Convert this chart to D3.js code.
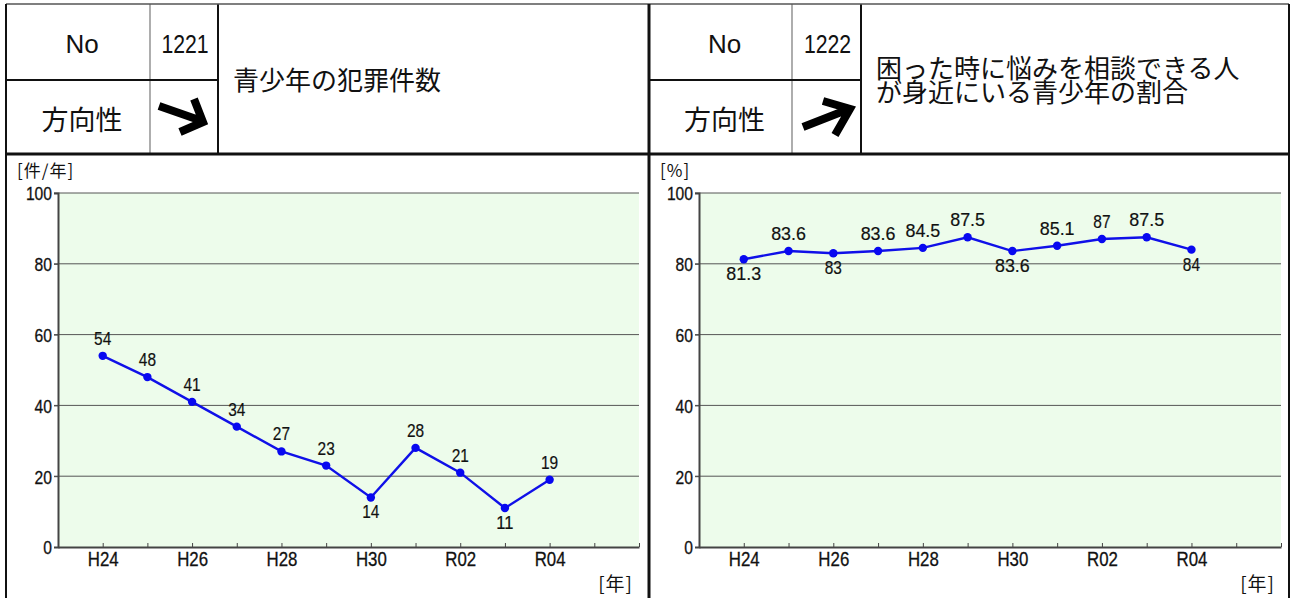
<!DOCTYPE html>
<html>
<head>
<meta charset="utf-8">
<script src="https://cdn.jsdelivr.net/npm/d3@7"></script>
<style>
  body { margin: 0; background: #fff; }
  svg { display: block; }
</style>
</head>
<body>
<div id="chart"></div>
<script>
"use strict"

// data
const years = ["H24", "H25", "H26", "H27", "H28", "H29", "H30", "R01", "R02", "R03", "R04"];
const crimeCounts = [54, 48, 41, 34, 27, 23, 14, 28, 21, 11, 19];
const consultRates = [81.3, 83.6, 83, 83.6, 84.5, 87.5, 83.6, 85.1, 87, 87.5, 84];
const yTicks = [0, 20, 40, 60, 80, 100];

const panels = [
  {no: "1221", arrow: "down", title: ["青少年の犯罪件数"], unit: "[件/年]",
   values: crimeCounts, x0: 6, x1: 649, col1: 150, col2: 218, plotL: 58, plotR: 639},
  {no: "1222", arrow: "up", title: ["困った時に悩みを相談できる人", "が身近にいる青少年の割合"], unit: "[%]",
   values: consultRates, x0: 649, x1: 1289, col1: 792, col2: 861, plotL: 699, plotR: 1281}
];

const W = 1292, H = 598;
const numFont = "'Liberation Sans', Arial, sans-serif";
const jpFont = "'Noto Sans CJK JP', sans-serif";

// squeeze number text to look like the narrow font of the original
function narrow(sel, perChar, dotWidth) {
  sel.each(function() {
    const t = this.textContent;
    if (!t) return;
    const dots = (t.match(/\./g) || []).length;
    const w = (t.length - dots) * perChar + dots * (dotWidth || perChar);
    d3.select(this).attr("textLength", w).attr("lengthAdjust", "spacingAndGlyphs");
  });
}

const svg = d3.select("#chart").append("svg")
  .attr("width", W).attr("height", H);

const frameTop = 4, rowMid = 80, headBottom = 154;
const plotTop = 193, plotBottom = 547;

panels.forEach((p) => {
  const g = svg.append("g");

  // header cells
  g.append("line").attr("x1", p.col1).attr("x2", p.col1).attr("y1", frameTop).attr("y2", headBottom)
    .attr("stroke", "#777").attr("stroke-width", 1.2);
  g.append("line").attr("x1", p.x0).attr("x2", p.col2).attr("y1", rowMid).attr("y2", rowMid)
    .attr("stroke", "#111").attr("stroke-width", 2);
  g.append("line").attr("x1", p.col2).attr("x2", p.col2).attr("y1", frameTop).attr("y2", headBottom)
    .attr("stroke", "#111").attr("stroke-width", 2);

  const c0 = (p.x0 + p.col1) / 2 + 4;
  g.append("text").attr("x", c0).attr("y", 53).attr("text-anchor", "middle")
    .attr("font-family", numFont).attr("font-size", 26)
    .attr("fill", "#111").text("No");
  g.append("text").attr("x", (p.col1 + p.col2) / 2 + 1).attr("y", 53).attr("text-anchor", "middle")
    .attr("font-family", numFont).attr("font-size", 26)
    .attr("fill", "#111").text(p.no)
    .call(narrow, 11.8);
  g.append("text").attr("x", c0).attr("y", 130).attr("text-anchor", "middle")
    .attr("font-family", jpFont).attr("font-size", 27)
    .attr("fill", "#111").text("方向性");

  // direction arrow
  const arrowPath = p.arrow === "down"
    ? "M159,106 L202,121 M194,99 L203,122 L180,132"
    : "M803,127 L849,109 M823,101 L850,109 L835,135";
  g.append("path").attr("d", arrowPath).attr("fill", "none")
    .attr("stroke", "#000").attr("stroke-width", 8).attr("stroke-linejoin", "miter");

  // title
  const ty = p.title.length === 1 ? [90] : [78, 102];
  p.title.forEach((t, i) => {
    g.append("text").attr("x", p.col2 + 15).attr("y", ty[i])
      .attr("font-family", jpFont).attr("font-size", 26).attr("fill", "#111").text(t);
  });

  // scales
  const x = d3.scaleLinear().domain([0, years.length + 2]).range([p.plotL, p.plotR]);
  const y = d3.scaleLinear().domain([0, 100]).range([plotBottom, plotTop]);

  // plot background
  g.append("rect").attr("x", p.plotL).attr("y", plotTop)
    .attr("width", p.plotR - p.plotL).attr("height", plotBottom - plotTop)
    .attr("fill", "#edfceb");

  // grid
  g.selectAll(".grid").data(yTicks.filter((d) => d > 0)).enter()
    .append("line")
      .attr("x1", p.plotL - 4).attr("x2", p.plotR)
      .attr("y1", (d) => y(d)).attr("y2", (d) => y(d))
      .attr("stroke", "#555").attr("stroke-width", 1);

  // axes
  const yAxis = d3.axisLeft(y).tickValues(yTicks).tickSize(4).tickPadding(2);
  const ya = g.append("g").attr("transform", `translate(${p.plotL},0)`).call(yAxis);
  ya.select(".domain").attr("stroke", "#444").attr("stroke-width", 2);
  ya.selectAll(".tick line").attr("stroke", "#444");
  ya.selectAll(".tick text").attr("font-family", numFont).attr("font-size", 19)
    .attr("fill", "#111").attr("stroke", "#111").attr("stroke-width", 0.3)
    .attr("dy", "0.36em")
    .call(narrow, 8.7);

  const xTicks = d3.range(1, years.length + 3);
  const xAxis = d3.axisBottom(x).tickValues(xTicks).tickSizeInner(-4).tickSizeOuter(0)
    .tickPadding(4)
    .tickFormat((d) => (d - 1) % 2 === 0 && years[d - 1] ? years[d - 1] : "");
  const xa = g.append("g").attr("transform", `translate(0,${plotBottom})`).call(xAxis);
  xa.select(".domain").attr("stroke", "#444").attr("stroke-width", 2);
  xa.selectAll(".tick line").attr("stroke", "#444");
  xa.selectAll(".tick text").attr("font-family", numFont).attr("font-size", 20.5)
    .attr("fill", "#111").attr("stroke", "#111").attr("stroke-width", 0.3)
    .call(narrow, 10.3);

  // unit labels
  g.append("text").attr("x", p.x0 + 11).attr("y", 177)
    .attr("font-family", jpFont).attr("font-size", 17).attr("letter-spacing", 1)
    .attr("fill", "#111").text(p.unit);
  g.append("text").attr("x", p.plotR - 6).attr("y", 591).attr("text-anchor", "end")
    .attr("font-family", jpFont).attr("font-size", 19).attr("letter-spacing", 1)
    .attr("fill", "#111").text("[年]");

  // line + points
  const line = d3.line().x((d, i) => x(i + 1)).y((d) => y(d));
  g.append("path").datum(p.values).attr("d", line)
    .attr("fill", "none").attr("stroke", "#1010e8").attr("stroke-width", 2.4);
  g.selectAll(".pt").data(p.values).enter()
    .append("circle")
      .attr("cx", (d, i) => x(i + 1)).attr("cy", (d) => y(d)).attr("r", 4.2)
      .attr("fill", "#0808f0");

  // value labels: below if lower than every neighbour
  const below = (d, i) => {
    const nb = [p.values[i - 1], p.values[i + 1]].filter((v) => v !== undefined);
    return nb.every((v) => d < v);
  };
  g.selectAll(".lbl").data(p.values).enter()
    .append("text")
      .attr("x", (d, i) => x(i + 1))
      .attr("y", (d, i) => y(d) + (below(d, i) ? 21 : -11))
      .attr("text-anchor", "middle")
      .attr("font-family", numFont).attr("font-size", 19)
      .attr("fill", "#111").attr("stroke", "#111").attr("stroke-width", 0.2)
      .text((d) => d)
      .call(narrow, 8.6, 9);
});

// outer frame
svg.append("line").attr("x1", 6).attr("x2", 1289).attr("y1", frameTop).attr("y2", frameTop)
  .attr("stroke", "#555").attr("stroke-width", 1.5);
svg.append("line").attr("x1", 6).attr("x2", 1289).attr("y1", headBottom).attr("y2", headBottom)
  .attr("stroke", "#111").attr("stroke-width", 3);
[6, 649, 1289].forEach((xx) => {
  svg.append("line").attr("x1", xx).attr("x2", xx).attr("y1", frameTop).attr("y2", H)
    .attr("stroke", "#111").attr("stroke-width", xx === 649 ? 3 : 2);
});
</script>
</body>
</html>
